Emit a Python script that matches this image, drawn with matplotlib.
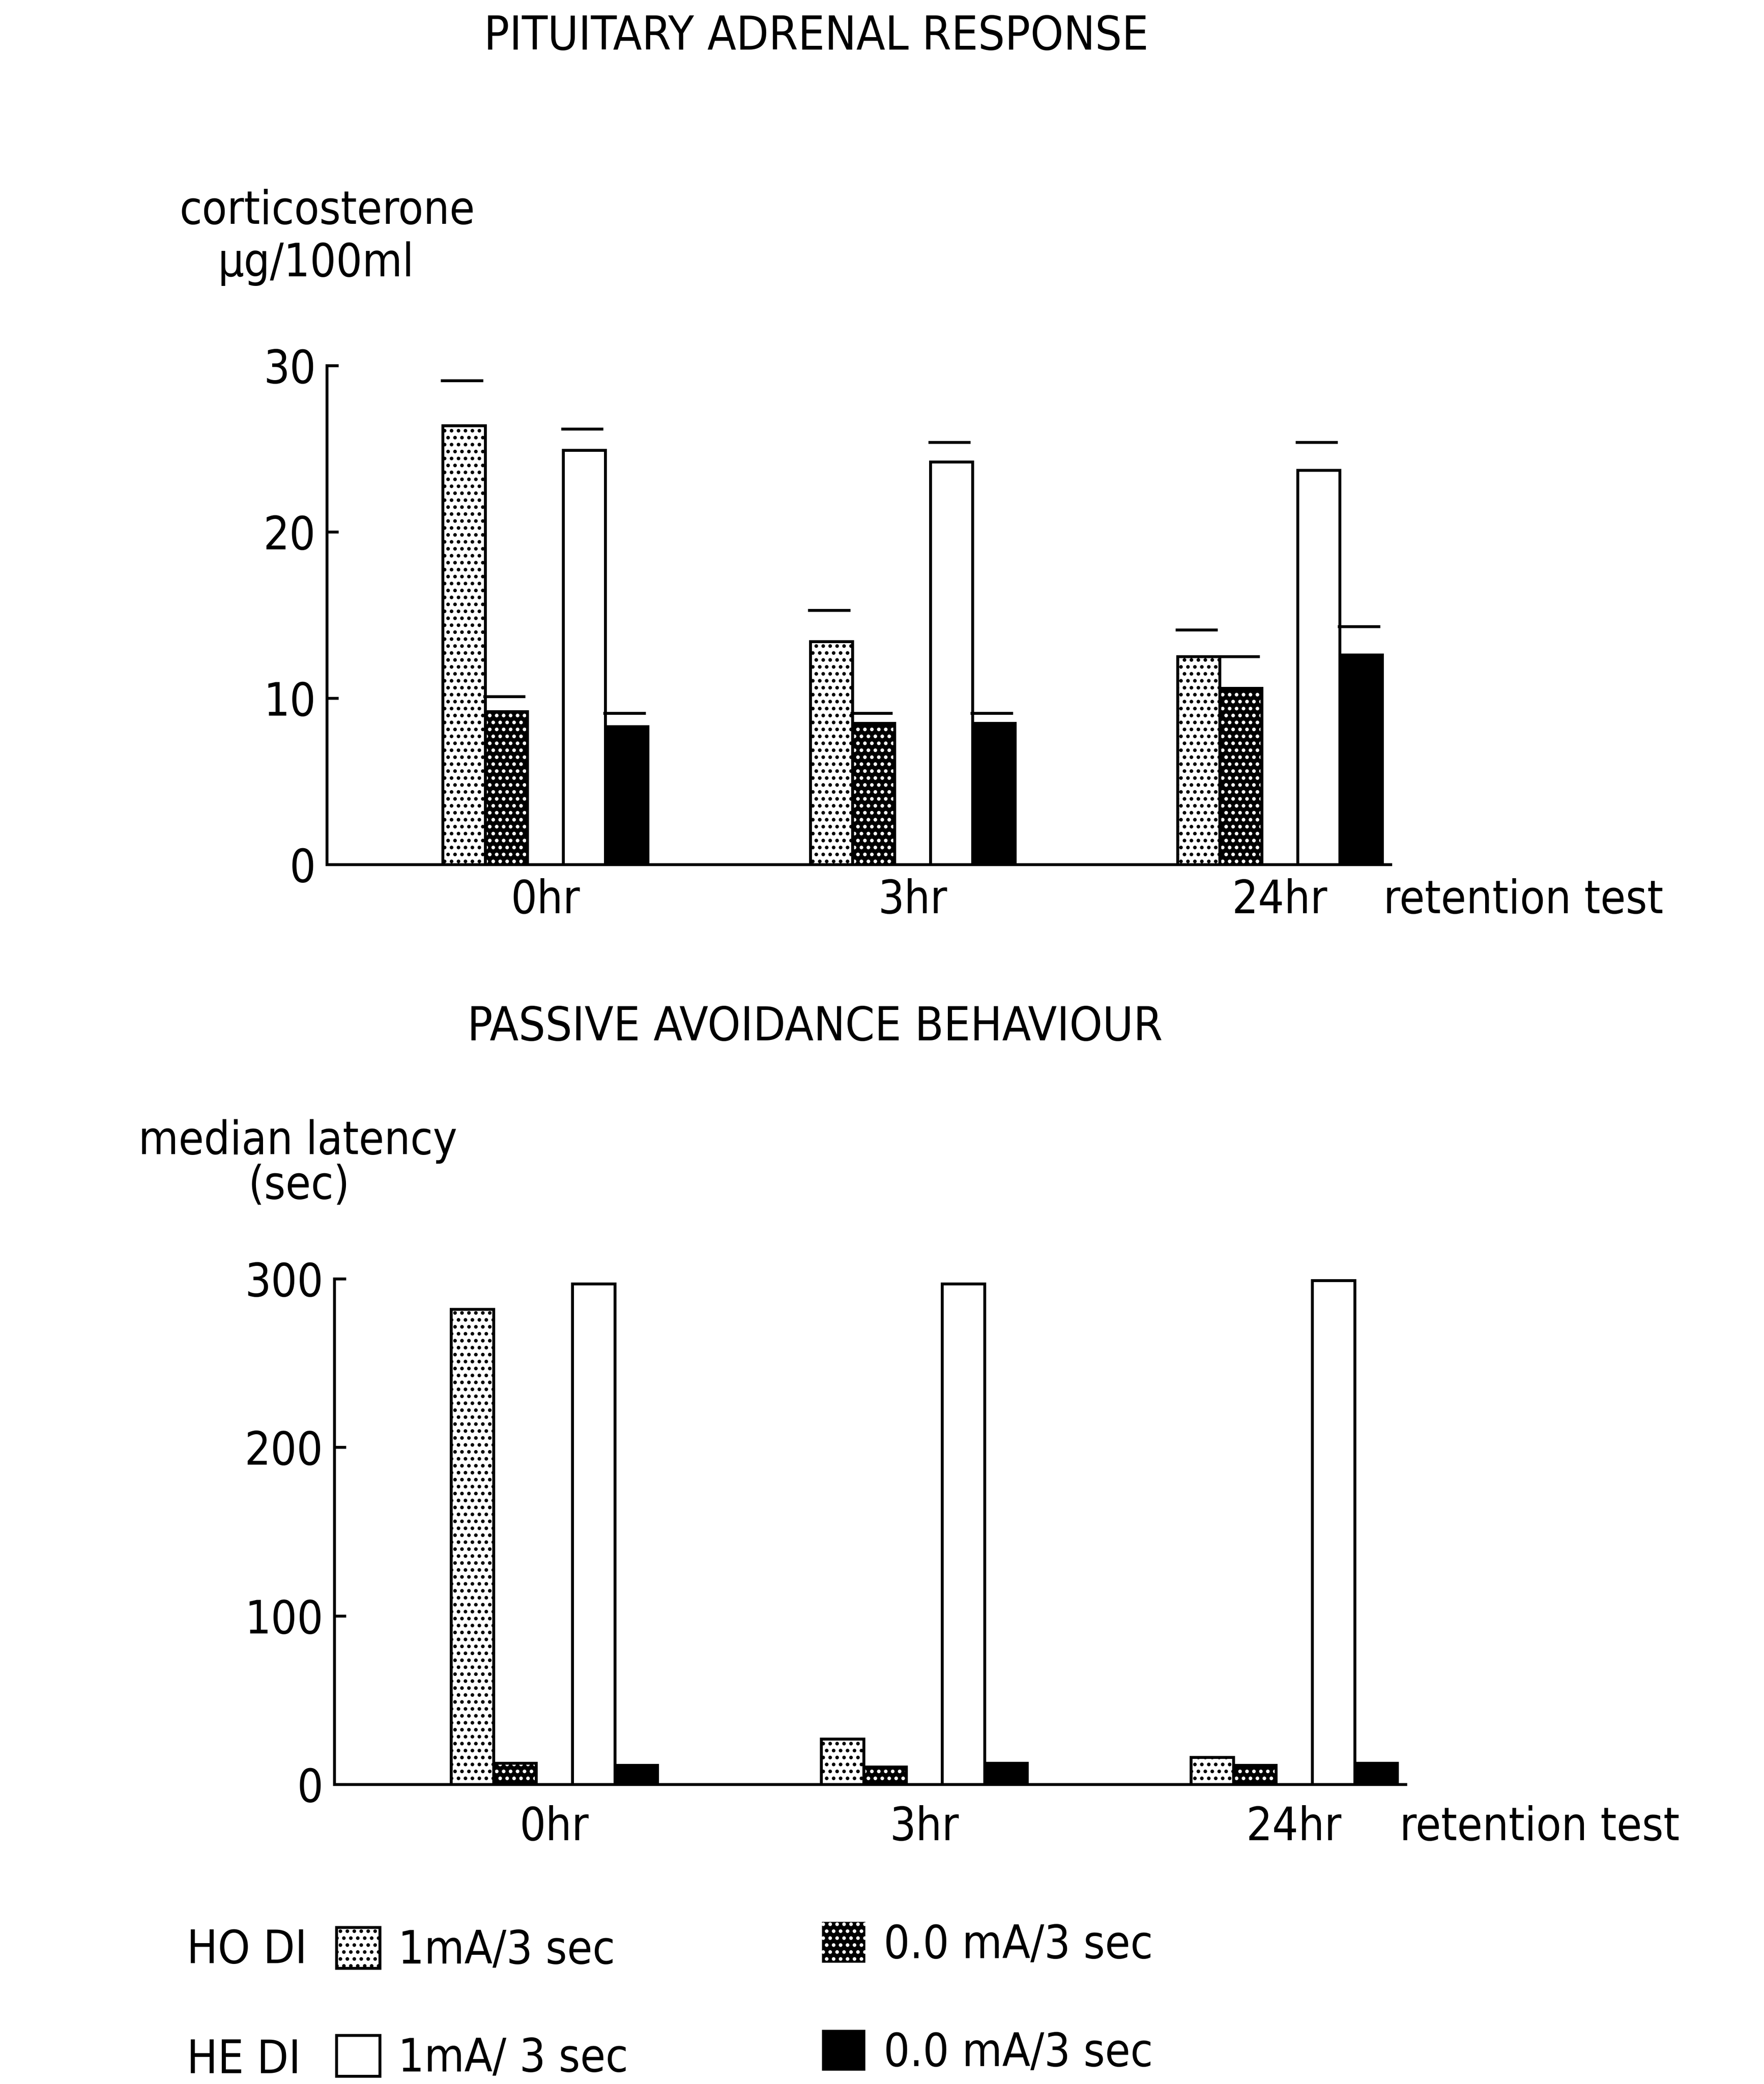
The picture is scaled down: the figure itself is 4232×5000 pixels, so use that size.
"""
    Pituitary adrenal response and passive avoidance behaviour bar charts
"""

import matplotlib
import matplotlib.pyplot as plt
from matplotlib.patches import Rectangle

matplotlib.use('agg')

plt.rcParams['font.family'] = ['DejaVu Sans']
plt.rcParams['font.stretch'] = 'condensed'
plt.rcParams['hatch.linewidth'] = 3.8

# data
timeLabels = ['0hr', '3hr', '24hr']
rowNames = ['HO DI', 'HE DI']
seriesLabels = ['1mA/3 sec', '0.0 mA/3 sec', '1mA/ 3 sec', '0.0 mA/3 sec']

# corticosterone (ug/100ml) mean and SEM per time point
corticoHO1mA = [26.4, 13.4, 12.5]
corticoHO1mASem = [2.7, 1.9, 1.6]
corticoHO0mA = [9.2, 8.5, 10.6]
corticoHO0mASem = [0.9, 0.6, 1.9]
corticoHE1mA = [24.9, 24.2, 23.7]
corticoHE1mASem = [1.3, 1.2, 1.7]
corticoHE0mA = [8.3, 8.5, 12.6]
corticoHE0mASem = [0.8, 0.6, 1.7]

# median latency (sec) per time point
latencyHO1mA = [282, 27, 16]
latencyHO0mA = [12.5, 10.5, 11.5]
latencyHE1mA = [297, 297, 299]
latencyHE0mA = [11.5, 12.5, 12.5]

corticoTicks = [0, 10, 20, 30]
latencyTicks = [0, 100, 200, 300]

# layout / style
figW, figH, dpi = 42.32, 50.0, 100
fs = 79
titleFs = 81
lw = 5.0
groupStep = 8.7
barOffsets = [0, 1, 2.85, 3.85]
xLim = (-2.75, 22.45)
retentionX = 25.6

barStyles = [
    {'face': 'white', 'hatch': '.', 'hatchColor': 'black'},
    {'face': 'black', 'hatch': '.', 'hatchColor': 'white'},
    {'face': 'white', 'hatch': None, 'hatchColor': 'black'},
    {'face': 'black', 'hatch': None, 'hatchColor': 'black'},
]


def drawBars(ax, seriesList, semList=None):
    """ draw the four bar series of one panel, with SEM caps if given """
    for k, values in enumerate(seriesList):
        style = barStyles[k]
        xPos = [g * groupStep + barOffsets[k] for g in range(len(values))]
        ax.bar(xPos, values, width=1, align='edge', facecolor=style['face'],
               edgecolor=style['hatchColor'], hatch=style['hatch'],
               linewidth=0, zorder=2)
        ax.bar(xPos, values, width=1, align='edge', fill=False,
               edgecolor='black', linewidth=lw, zorder=3)
        if semList is not None:
            caps = [v + s for v, s in zip(values, semList[k])]
            ax.hlines(caps, [x - 0.05 for x in xPos], [x + 0.95 for x in xPos],
                      color='black', linewidth=lw, zorder=3)


def styleAxis(ax, ticks, labelPad):
    """ axis lines, inward y ticks and time labels """
    centers = [g * groupStep + (barOffsets[0] + barOffsets[-1] + 1) / 2
               for g in range(len(timeLabels))]
    ax.set_xlim(*xLim)
    ax.set_ylim(ticks[0], ticks[-1])
    ax.spines[['top', 'right']].set_visible(False)
    for side in ['left', 'bottom']:
        ax.spines[side].set_linewidth(lw)
    ax.spines['left'].set_bounds(ticks[0], ticks[-1])
    ax.set_yticks(ticks)
    ax.tick_params(axis='y', direction='in', length=20, width=lw, pad=19,
                   labelsize=fs)
    ax.set_xticks(centers, timeLabels)
    ax.tick_params(axis='x', length=0, pad=labelPad, labelsize=fs)
    ax.annotate('retention test', xy=(retentionX, 0),
                xycoords=('data', 'axes fraction'), xytext=(0, -labelPad),
                textcoords='offset points', ha='center', va='top',
                fontsize=fs, annotation_clip=False)
    ax.patch.set_alpha(0)


fig = plt.figure(figsize=(figW, figH), dpi=dpi)

# top panel: pituitary adrenal response
axTop = fig.add_axes([784 / 4232, 1 - 2074 / 5000, 2552 / 4232, 1197 / 5000])
drawBars(axTop, [corticoHO1mA, corticoHO0mA, corticoHE1mA, corticoHE0mA],
         [corticoHO1mASem, corticoHO0mASem, corticoHE1mASem, corticoHE0mASem])
styleAxis(axTop, corticoTicks, 24)

# bottom panel: passive avoidance behaviour
axBot = fig.add_axes([802 / 4232, 1 - 4281 / 5000, 2570 / 4232, 1213 / 5000])
drawBars(axBot, [latencyHO1mA, latencyHO0mA, latencyHE1mA, latencyHE0mA])
styleAxis(axBot, latencyTicks, 36)

# titles and axis labels
fig.text(1958 / 4232, 1 - 88 / 5000, 'PITUITARY ADRENAL RESPONSE',
         ha='center', va='center', fontsize=titleFs)
fig.text(1955 / 4232, 1 - 2465 / 5000, 'PASSIVE AVOIDANCE BEHAVIOUR',
         ha='center', va='center', fontsize=titleFs)
fig.text(431 / 4232, 1 - 537 / 5000, 'corticosterone', ha='left',
         va='baseline', fontsize=fs)
fig.text(523 / 4232, 1 - 663 / 5000, 'µg/100ml', ha='left',
         va='baseline', fontsize=fs)
fig.text(332 / 4232, 1 - 2769 / 5000, 'median latency', ha='left',
         va='baseline', fontsize=fs)
fig.text(595 / 4232, 1 - 2876 / 5000, '(sec)', ha='left',
         va='baseline', fontsize=fs)

# legend: one small legend per entry so every patch sits where it should
legendX = [807 / 4232, 1972 / 4232, 807 / 4232, 1972 / 4232]
legendY = [1 - 4679 / 5000, 1 - 4666 / 5000, 1 - 4938 / 5000, 1 - 4925 / 5000]
for k, style in enumerate(barStyles):
    filledBlack = style['face'] == 'black'
    handle = Rectangle((0, 0), 1, 1, facecolor=style['face'],
                       edgecolor=style['hatchColor'], hatch=style['hatch'],
                       linewidth=0 if filledBlack else lw)
    fig.legend([handle], [seriesLabels[k]], loc='center left',
               bbox_to_anchor=(legendX[k], legendY[k]),
               bbox_transform=fig.transFigure, frameon=False, fontsize=fs,
               handlelength=0.95, handleheight=1.0, handletextpad=0.4,
               borderpad=0, borderaxespad=0)
for name, yRow in zip(rowNames, [1 - 4680 / 5000, 1 - 4943 / 5000]):
    fig.text(448 / 4232, yRow, name, ha='left', va='center', fontsize=fs)

fig.savefig('out.png', dpi=dpi)
